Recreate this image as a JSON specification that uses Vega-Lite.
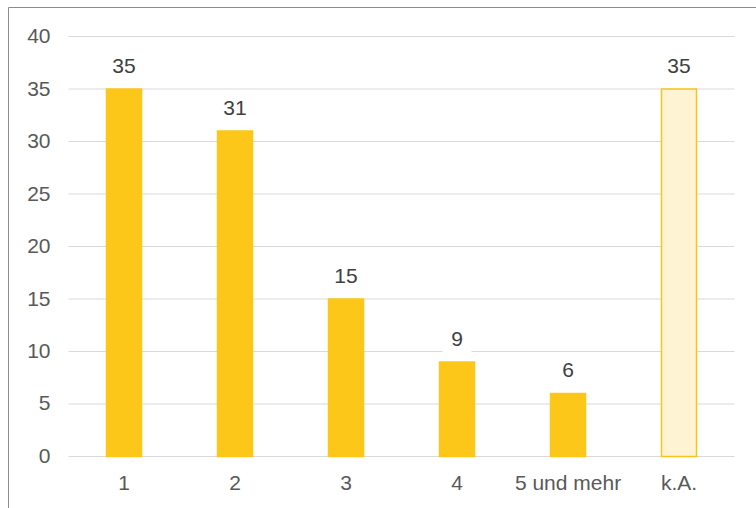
{
  "$schema": "https://vega.github.io/schema/vega-lite/v6.json",
  "width": 748,
  "height": 501,
  "autosize": {"type": "none"},
  "padding": {"left": 8, "top": 7, "right": 0, "bottom": 0},
  "background": "white",
  "config": {
    "view": {"stroke": null},
    "font": "Liberation Sans"
  },
  "datasets": {
    "counts": [
      {"Anzahl": "1", "Wert": 35, "Gruppe": "angegeben"},
      {"Anzahl": "2", "Wert": 31, "Gruppe": "angegeben"},
      {"Anzahl": "3", "Wert": 15, "Gruppe": "angegeben"},
      {"Anzahl": "4", "Wert": 9, "Gruppe": "angegeben"},
      {"Anzahl": "5 und mehr", "Wert": 6, "Gruppe": "angegeben"},
      {"Anzahl": "k.A.", "Wert": 35, "Gruppe": "keine Angabe"}
    ],
    "gridlines": [
      {"Wert": 0}, {"Wert": 5}, {"Wert": 10}, {"Wert": 15}, {"Wert": 20},
      {"Wert": 25}, {"Wert": 30}, {"Wert": 35}, {"Wert": 40}
    ]
  },
  "encoding": {
    "x": {
      "field": "Anzahl",
      "type": "nominal",
      "sort": null,
      "scale": {
        "type": "band",
        "domain": ["1", "2", "3", "4", "5 und mehr", "k.A."],
        "paddingInner": 0,
        "paddingOuter": 0.3694,
        "align": 0.738
      },
      "axis": {
        "orient": "top",
        "title": null,
        "domain": true,
        "domainColor": "#8c8c8c",
        "domainWidth": 1,
        "ticks": false,
        "tickSize": 0,
        "grid": false,
        "labelAngle": 0,
        "labelPadding": -482,
        "labelBaseline": "alphabetic",
        "labelFontSize": 21,
        "labelColor": "#595959",
        "labelOverlap": false
      }
    },
    "y": {
      "field": "Wert",
      "type": "quantitative",
      "scale": {"domain": [-4.905, 42.81], "nice": false, "zero": false},
      "axis": {
        "orient": "left",
        "title": null,
        "values": [0, 5, 10, 15, 20, 25, 30, 35, 40],
        "domain": true,
        "domainColor": "#8c8c8c",
        "domainWidth": 1,
        "ticks": false,
        "tickSize": 0,
        "grid": false,
        "labelPadding": -42,
        "labelFontSize": 21,
        "labelColor": "#595959",
        "labelOverlap": false
      }
    }
  },
  "layer": [
    {
      "data": {"name": "gridlines"},
      "mark": {"type": "rule", "color": "#d9d9d9", "strokeWidth": 1},
      "encoding": {
        "x": {
          "datum": "1",
          "type": "nominal",
          "bandPosition": 0,
          "scale": {
            "type": "band",
            "domain": ["1", "2", "3", "4", "5 und mehr", "k.A."],
            "paddingInner": 0,
            "paddingOuter": 0.3694,
            "align": 0.738
          },
          "axis": {
            "orient": "top",
            "title": null,
            "domain": true,
            "domainColor": "#8c8c8c",
            "domainWidth": 1,
            "ticks": false,
            "tickSize": 0,
            "grid": false,
            "labelAngle": 0,
            "labelPadding": -482,
            "labelBaseline": "alphabetic",
            "labelFontSize": 21,
            "labelColor": "#595959",
            "labelOverlap": false
          }
        },
        "x2": {"datum": "k.A.", "bandPosition": 1}
      }
    },
    {
      "data": {"name": "counts"},
      "mark": {"type": "bar", "width": 35, "strokeWidth": 1.5},
      "encoding": {
        "y2": {"datum": 0},
        "fill": {
          "field": "Gruppe",
          "type": "nominal",
          "scale": {"domain": ["angegeben", "keine Angabe"], "range": ["#fcc719", "#fef3d2"]},
          "legend": null
        },
        "stroke": {
          "field": "Gruppe",
          "type": "nominal",
          "scale": {"domain": ["angegeben", "keine Angabe"], "range": ["#fcc719", "#f9c51a"]},
          "legend": null
        }
      }
    },
    {
      "data": {"name": "counts"},
      "mark": {
        "type": "bar",
        "width": 29,
        "fill": "white",
        "yOffset": -36,
        "y2Offset": -8
      },
      "encoding": {
        "y2": {"field": "Wert"}
      }
    },
    {
      "data": {"name": "counts"},
      "mark": {
        "type": "text",
        "dy": -16,
        "baseline": "alphabetic",
        "fontSize": 21,
        "color": "#404040"
      },
      "encoding": {
        "text": {"field": "Wert", "type": "quantitative"}
      }
    }
  ]
}
